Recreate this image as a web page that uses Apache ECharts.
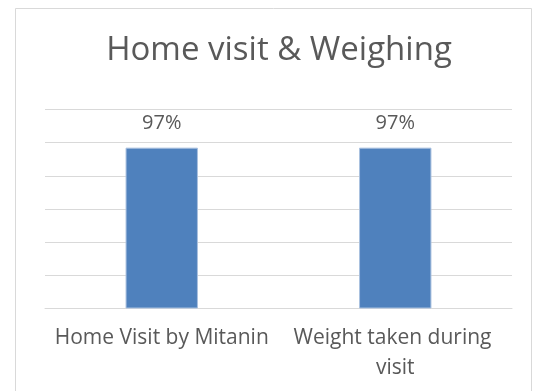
<!DOCTYPE html>
<html>
<head>
<meta charset="utf-8">
<style>
  html, body { margin: 0; padding: 0; background: #ffffff; }
  #chart { width: 542px; height: 391px; }
</style>
<script src="https://cdn.jsdelivr.net/npm/echarts@6/dist/echarts.min.js"></script>
</head>
<body>
<div id="chart"></div>
<script>
// Share of households (percent)
const categories = ['Home Visit by Mitanin', 'Weight taken during visit'];
const values = [97, 97];
const titleText = 'Home visit & Weighing';

const textColor = '#595959';
const fontFamily = '"Open Sans", "Noto Sans", sans-serif';

const chart = echarts.init(document.getElementById('chart'), null, { renderer: 'canvas' });

chart.setOption({
  animation: false,
  backgroundColor: '#ffffff',
  title: {
    text: titleText,
    left: 274,
    top: 29,
    textAlign: 'center',
    textStyle: { color: textColor, fontFamily: fontFamily, fontSize: 33, fontWeight: 'normal' }
  },
  graphic: [{
    type: 'rect',
    shape: { x: 15.5, y: 8.5, width: 516, height: 400 },
    style: { fill: 'none', stroke: '#D9D9D9', lineWidth: 1 },
    silent: true
  }],
  grid: { left: 45, right: 30, top: 109.5, bottom: 82.5 },
  xAxis: {
    type: 'category',
    data: categories,
    axisLine: { show: true, lineStyle: { color: '#D9D9D9', width: 1 } },
    axisTick: { show: false },
    axisLabel: {
      color: textColor,
      fontFamily: fontFamily,
      fontSize: 21,
      margin: 15,
      lineHeight: 30,
      width: 225,
      overflow: 'break',
      interval: 0
    }
  },
  yAxis: {
    type: 'value',
    min: 0,
    max: 120,
    interval: 20,
    axisLabel: { show: false },
    axisLine: { show: false },
    axisTick: { show: false },
    splitLine: { lineStyle: { color: '#D9D9D9', width: 1 } }
  },
  series: [{
    type: 'bar',
    data: values,
    barWidth: '31%',
    itemStyle: { color: '#4F81BD', borderColor: '#A9C0DF', borderWidth: 1 },
    label: {
      show: true,
      position: 'top',
      distance: 14,
      formatter: '{c}%',
      color: textColor,
      fontFamily: fontFamily,
      fontSize: 20
    }
  }]
});
</script>
</body>
</html>
